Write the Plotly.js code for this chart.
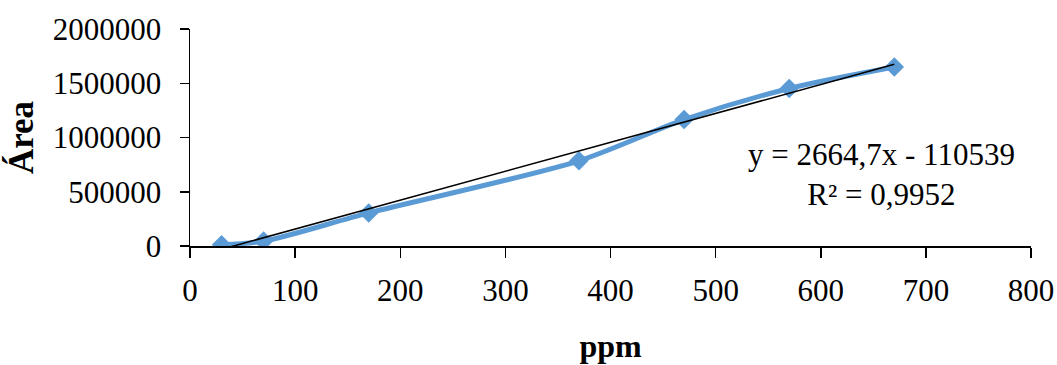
<!DOCTYPE html>
<html>
<head>
<meta charset="utf-8">
<script src="https://cdn.plot.ly/plotly-3.0.1.min.js"></script>
<style>html,body{margin:0;padding:0;background:#fff;}#chart{width:1057px;height:365px;}</style>
</head>
<body>
<div id="chart"></div>
<script>
// Data
const ppm = [30, 70, 170, 370, 470, 570, 670];
const area = [12000, 45000, 305000, 785000, 1165000, 1452000, 1650000];
// Excel linear trendline shown on the chart
const trendSlope = 2664.7;
const trendIntercept = -110539;
const equationLines = ["y = 2664,7x - 110539", "R² = 0,9952"];
const yTicks = [0, 500000, 1000000, 1500000, 2000000];
const xTicks = [0, 100, 200, 300, 400, 500, 600, 700, 800];

const xMin = Math.min(...ppm), xMax = Math.max(...ppm);
const trendX = [xMin, xMax];
const trendY = trendX.map(x => trendSlope * x + trendIntercept);

const serif = "'Liberation Serif', 'Times New Roman', serif";

const traces = [
  {
    x: ppm, y: area, type: 'scatter', mode: 'lines+markers',
    line: {color: '#5B9BD5', width: 5, shape: 'spline', smoothing: 0.8},
    marker: {symbol: 'diamond', size: 15, color: '#5B9BD5'},
    showlegend: false, hoverinfo: 'x+y'
  },
  {
    x: trendX, y: trendY, type: 'scatter', mode: 'lines',
    line: {color: '#000000', width: 1.5},
    showlegend: false, hoverinfo: 'skip'
  }
];

const layout = {
  width: 1057, height: 365,
  margin: {l: 190, r: 26, t: 29, b: 119, pad: 0},
  paper_bgcolor: '#ffffff', plot_bgcolor: '#ffffff',
  font: {family: serif, size: 31, color: '#000'},
  showlegend: false,
  xaxis: {
    range: [0, 800], tickvals: xTicks, ticktext: xTicks.map(String),
    showgrid: false, zeroline: false,
    showline: true, linecolor: '#000', linewidth: 1.5,
    ticks: 'outside', ticklen: 10, tickwidth: 1.5, tickcolor: '#000',
    ticklabelstandoff: 6,
    tickfont: {family: serif, size: 31, color: '#000'},
    title: {text: '<b>ppm</b>', font: {family: serif, size: 32, color: '#000'}, standoff: 28}
  },
  yaxis: {
    range: [0, 2000000], tickvals: yTicks, ticktext: yTicks.map(String),
    showgrid: false, zeroline: false,
    showline: true, linecolor: '#000', linewidth: 1.5,
    ticks: 'outside', ticklen: 9, tickwidth: 1.5, tickcolor: '#000',
    ticklabelstandoff: 12,
    tickfont: {family: serif, size: 31, color: '#000'},
    title: {text: '<b>Área</b>', font: {family: serif, size: 35, color: '#000'}, standoff: 8}
  },
  annotations: [{
    x: 658, y: 660000, xref: 'x', yref: 'y',
    text: equationLines.join('<br>'), showarrow: false, align: 'center',
    font: {family: serif, size: 31, color: '#000'}
  }]
};

Plotly.newPlot('chart', traces, layout, {displayModeBar: false, staticPlot: true});
</script>
</body>
</html>
